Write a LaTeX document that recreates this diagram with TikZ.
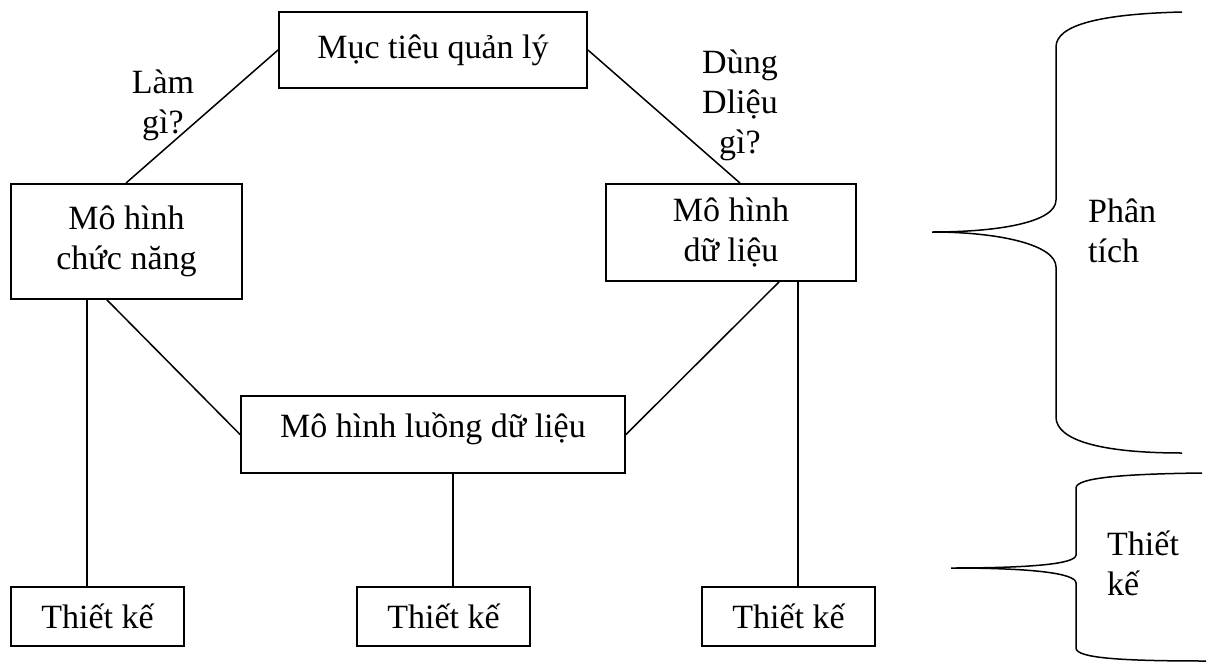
\documentclass[tikz,border=0pt]{standalone}
\usepackage{fontspec}
\setmainfont{Liberation Serif}

\tikzset{
  box/.style={draw, line width=1.9pt, inner sep=0pt, font=\fontsize{34}{40}\selectfont, align=center},
  note/.style={inner sep=0pt, font=\fontsize{34}{40}\selectfont, anchor=north},
  link/.style={line width=1.5pt},
}

\begin{document}
\begin{tikzpicture}[x=1pt,y=-1pt]
\useasboundingbox (0,0) rectangle (1208,664);
% Boxes
\node[box, minimum width=308pt, minimum height=76pt] (goal) at (433,50) {Mục tiêu quản lý};
\node[box, minimum width=231pt, minimum height=115pt] (func) at (126.5,241.5) {Mô hình\\chức năng};
\node[box, minimum width=250pt, minimum height=97pt] (data) at (731,232.5) {Mô hình\\dữ liệu};
\node[box, minimum width=384pt, minimum height=77pt, text depth=18pt] (flow) at (433,434.5) {Mô hình luồng dữ liệu};
\node[box, minimum width=173pt, minimum height=59pt] (tk1) at (97.5,616.5) {Thiết kế};
\node[box, minimum width=173pt, minimum height=59pt] (tk2) at (443.5,616.5) {Thiết kế};
\node[box, minimum width=173pt, minimum height=59pt] (tk3) at (788.5,616.5) {Thiết kế};
% Labels
\node[note, align=center] (what) at (163,70) {Làm\\gì?};
\node[note, align=center] (which) at (740,50) {Dùng\\Dliệu\\gì?};
\node[note, align=left, anchor=north west] (anal) at (1088,199) {Phân\\tích};
\node[note, align=left, anchor=north west] (design) at (1107,531) {Thiết\\kế};
% Lines
\draw[link] (goal.west) -- (func.north -| 126,0);
\draw[link] (goal.east) -- (data.north -| 740,0);
\draw[link] (func.south -| 107,0) -- (flow.west);
\draw[link] (data.south -| 779,0) -- (flow.east);
\draw[link] (func.south -| 87,0) -- (tk1.north -| 87,0);
\draw[link] (flow.south -| 453,0) -- (tk2.north -| 453,0);
\draw[link] (data.south -| 798,0) -- (tk3.north -| 798,0);
% Braces
\draw[link] (1182,12) .. controls (1100,14) and (1056,25) .. (1056,47) -- (1056,200)
  .. controls (1056,222) and (1000,232) .. (932,232)
  .. controls (1000,232) and (1056,245) .. (1056,267) -- (1056,417)
  .. controls (1056,440) and (1100,453) .. (1182,453);
\draw[link] (1202,473) .. controls (1120,474) and (1076,478) .. (1076,488) -- (1076,555)
  .. controls (1076,564) and (1030,568) .. (951,568)
  .. controls (1030,568) and (1076,573) .. (1076,583) -- (1076,648)
  .. controls (1076,658) and (1120,661) .. (1206,661);
\end{tikzpicture}
\end{document}
